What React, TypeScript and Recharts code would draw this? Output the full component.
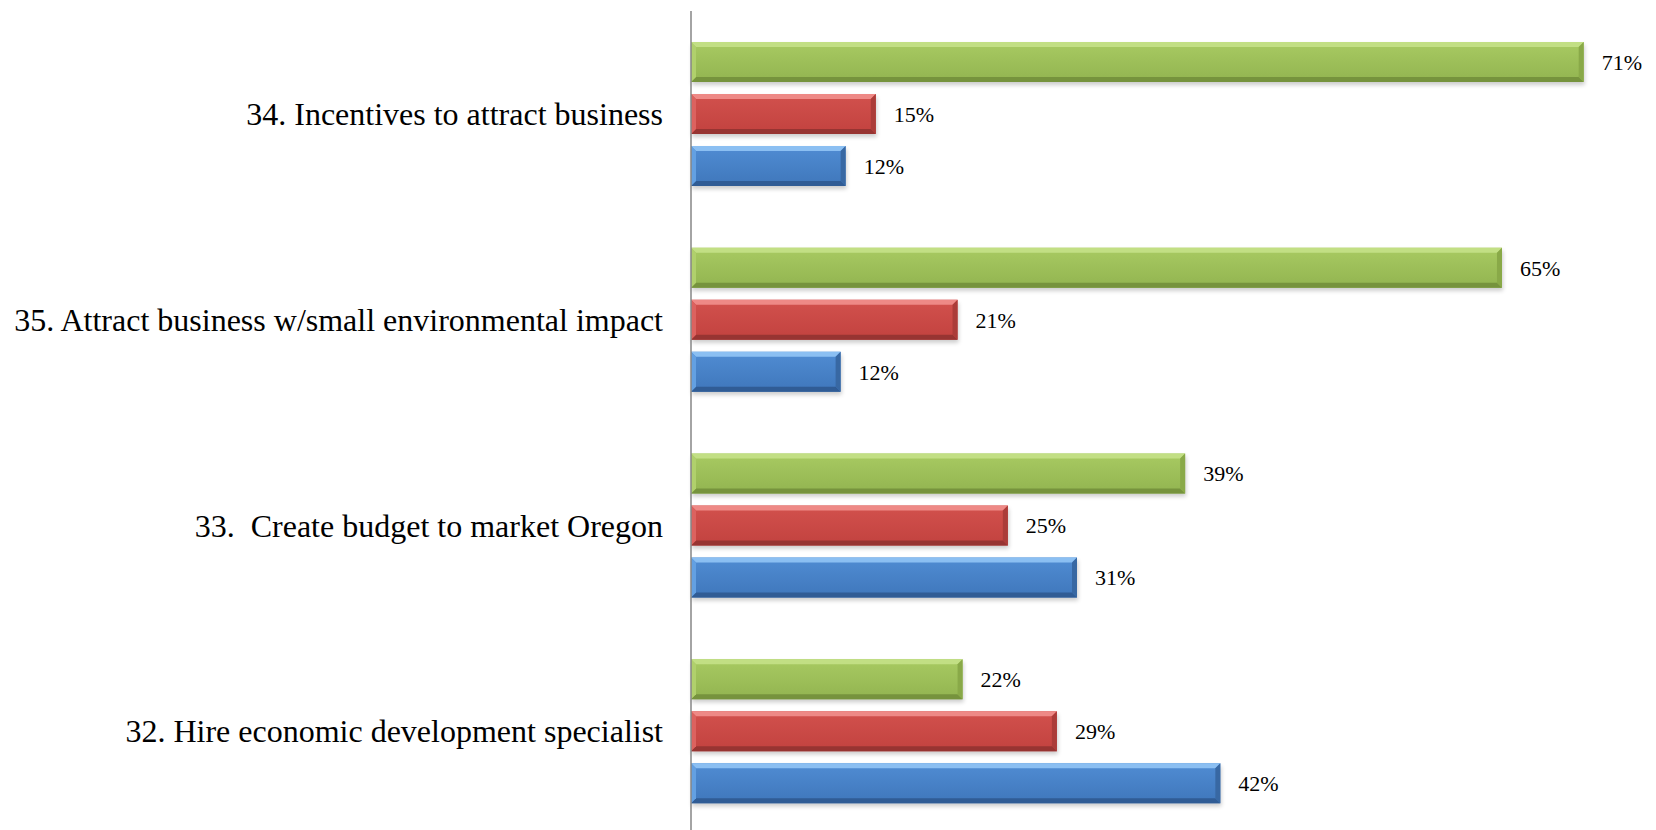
import React from "react";
import { BarChart, Bar, XAxis, YAxis, LabelList } from "recharts";

const categories = [
  "34. Incentives to attract business",
  "35. Attract business w/small environmental impact",
  "33.\u00a0 Create budget to market Oregon",
  "32. Hire economic development specialist",
];
const greenValues = [71.0, 64.5, 39.3, 21.6];
const redValues = [14.7, 21.2, 25.2, 29.1];
const blueValues = [12.3, 11.9, 30.7, 42.1];

const data = categories.map((name, i) => ({
  name,
  green: greenValues[i],
  red: redValues[i],
  blue: blueValues[i],
}));

type Pal = { top: string; faceTop: string; faceBottom: string; bottom: string; right: string; left: string };

const palettes: Record<string, Pal> = {
  green: { top: "#c2df84", faceTop: "#a8ca62", faceBottom: "#92b450", bottom: "#76933d", right: "#89a948", left: "#b0d06c" },
  red: { top: "#ee8986", faceTop: "#d2514d", faceBottom: "#c2423f", bottom: "#973432", right: "#ab3c39", left: "#dc625f" },
  blue: { top: "#8bbff2", faceTop: "#508cd3", faceBottom: "#3f77bb", bottom: "#305c95", right: "#3868a3", left: "#63a0e2" },
};

const makeShape = (key: string) => (props: any) => {
  const { x, y, width, height, index } = props;
  if (!width || width <= 0) return <g />;
  const c = palettes[key];
  const b = 5;
  const id = `grad-${key}-${index}`;
  const fid = `blur-${key}-${index}`;
  const w = width;
  const h = height;
  return (
    <g>
      <defs>
        <linearGradient id={id} x1="0" y1="0" x2="0" y2="1">
          <stop offset="0" stopColor={c.faceTop} />
          <stop offset="1" stopColor={c.faceBottom} />
        </linearGradient>
        <filter id={fid} x="-10%" y="-50%" width="120%" height="200%">
          <feGaussianBlur stdDeviation="2" />
        </filter>
      </defs>
      <rect x={x + 1} y={y + 3} width={w} height={h} fill="#000" opacity={0.2} filter={`url(#${fid})`} />
      <rect x={x} y={y} width={w} height={h} fill={`url(#${id})`} />
      <polygon points={`${x},${y} ${x + w},${y} ${x + w - b},${y + b} ${x + b},${y + b}`} fill={c.top} />
      <polygon points={`${x},${y + h} ${x + w},${y + h} ${x + w - b},${y + h - b} ${x + b},${y + h - b}`} fill={c.bottom} />
      <polygon points={`${x + w},${y} ${x + w},${y + h} ${x + w - b},${y + h - b} ${x + w - b},${y + b}`} fill={c.right} />
      <polygon points={`${x},${y} ${x},${y + h} ${x + b},${y + h - b} ${x + b},${y + b}`} fill={c.left} />
    </g>
  );
};

const fmt = (v: any) => `${Math.round(Number(v))}%`;
const font = "Liberation Serif, Times New Roman, serif";
const labelStyle = { fill: "#000", fontSize: 22, fontFamily: font };

export default function App() {
  return (
    <div style={{ position: "fixed", left: 0, top: 0, width: 1656, height: 830, overflow: "hidden", background: "#fff" }}>
      <BarChart
        width={1656}
        height={834}
        data={data}
        layout="vertical"
        margin={{ top: 11, right: 22, bottom: 0, left: 0 }}
        barSize={40}
        barGap={12}
        barCategoryGap={31}
      >
        <XAxis type="number" domain={[0, 75]} hide />
        <YAxis
          type="category"
          dataKey="name"
          width={691}
          tickLine={false}
          tickSize={0}
          tickMargin={28}
          axisLine={{ stroke: "#868686", strokeWidth: 1.5 }}
          tick={{ fill: "#000", fontSize: 32, fontFamily: font }}
          interval={0}
        />
        <Bar dataKey="green" isAnimationActive={false} shape={makeShape("green")}>
          <LabelList dataKey="green" position="right" offset={18} formatter={fmt} style={labelStyle} />
        </Bar>
        <Bar dataKey="red" isAnimationActive={false} shape={makeShape("red")}>
          <LabelList dataKey="red" position="right" offset={18} formatter={fmt} style={labelStyle} />
        </Bar>
        <Bar dataKey="blue" isAnimationActive={false} shape={makeShape("blue")}>
          <LabelList dataKey="blue" position="right" offset={18} formatter={fmt} style={labelStyle} />
        </Bar>
      </BarChart>
    </div>
  );
}
